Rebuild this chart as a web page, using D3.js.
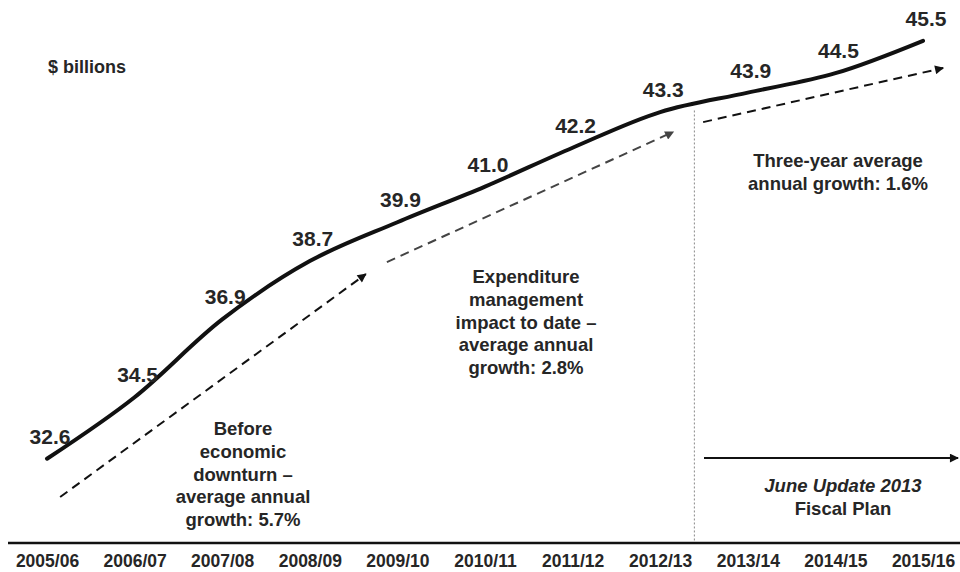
<!DOCTYPE html>
<html>
<head>
<meta charset="utf-8">
<script src="https://cdn.jsdelivr.net/npm/d3@7"></script>
<style>
  html, body { margin: 0; padding: 0; background: #fff; }
  svg { display: block; font-family: "Liberation Sans", Arial, sans-serif; }
</style>
</head>
<body>
<svg id="chart" width="960" height="572"></svg>
<script>
// Fiscal years and expenditure ($ billions)
const years = ["2005/06", "2006/07", "2007/08", "2008/09", "2009/10", "2010/11",
               "2011/12", "2012/13", "2013/14", "2014/15", "2015/16"];
const expenditure = [32.6, 34.5, 36.9, 38.7, 39.9, 41.0, 42.2, 43.3, 43.9, 44.5, 45.5];

// Trend arrows, expressed as (year index, $ billions)
const trendArrows = [
  { from: [0.15, 31.42], to: [3.64, 38.30], color: "#111", dashed: true },
  { from: [3.88, 38.67], to: [7.15, 42.69], color: "#444", dashed: true },
  { from: [7.49, 42.99], to: [10.23, 44.66], color: "#111", dashed: true },
  { from: [7.50, 32.62], to: [10.40, 32.62], color: "#111", dashed: false }
];
const planStart = 7.39; // divider between actuals and the fiscal plan

const svg = d3.select("#chart");
const W = 960, H = 572;
const axisY = 543;

const x = d3.scalePoint().domain(years).range([47, 923]);
const xi = d3.scaleLinear().domain([0, years.length - 1]).range([47, 923]);
const y = d3.scaleLinear().domain([30, 46]).range([axisY, axisY - 16 * 32.4]);

const textColor = "#262626";

// arrowhead markers
const defs = svg.append("defs");
["#111", "#444"].forEach((c, i) => {
  defs.append("marker")
    .attr("id", "head" + i)
    .attr("viewBox", "0 0 10 10")
    .attr("refX", 9).attr("refY", 5)
    .attr("markerWidth", 10).attr("markerHeight", 9)
    .attr("markerUnits", "userSpaceOnUse")
    .attr("orient", "auto")
    .append("path")
    .attr("d", "M0,0 L10,5 L0,10 Z")
    .attr("fill", c);
});

// divider
svg.append("line")
  .attr("x1", xi(planStart)).attr("x2", xi(planStart))
  .attr("y1", y(43.35)).attr("y2", axisY)
  .attr("stroke", "#888").attr("stroke-width", 1)
  .attr("stroke-dasharray", "2,2");

// baseline
svg.append("line")
  .attr("x1", 8).attr("x2", W)
  .attr("y1", axisY).attr("y2", axisY)
  .attr("stroke", "#111").attr("stroke-width", 2.5);

// x axis labels
const xAxis = d3.axisBottom(x).tickSize(0).tickPadding(0);
const gx = svg.append("g").attr("transform", `translate(0,${axisY})`).call(xAxis);
gx.select(".domain").remove();
gx.selectAll("text")
  .attr("y", 24).attr("dy", 0)
  .attr("fill", textColor)
  .style("font-size", "17.5px")
  .style("font-weight", "bold")
  .style("font-family", "'Liberation Sans', Arial, sans-serif");

// trend arrows
svg.selectAll(".trend").data(trendArrows).enter().append("line")
  .attr("class", "trend")
  .attr("x1", d => xi(d.from[0])).attr("y1", d => y(d.from[1]))
  .attr("x2", d => xi(d.to[0])).attr("y2", d => y(d.to[1]))
  .attr("stroke", d => d.color)
  .attr("stroke-width", 2)
  .attr("stroke-dasharray", d => d.dashed ? "9,6" : null)
  .attr("marker-end", (d, i) => i === 1 ? null : (d.color === "#444" ? "url(#head1)" : "url(#head0)"));

// the second trend arrow gets its head separately so the dash pattern ends cleanly
{
  const d = trendArrows[1];
  svg.append("line")
    .attr("x1", xi(d.to[0]) - 1).attr("y1", y(d.to[1]) + 0.5)
    .attr("x2", xi(d.to[0])).attr("y2", y(d.to[1]))
    .attr("stroke", "none")
    .attr("marker-end", "url(#head1)");
}

// expenditure line
const line = d3.line()
  .x((d, i) => x(years[i]))
  .y(d => y(d))
  .curve(d3.curveCatmullRom.alpha(0.5));

svg.append("path")
  .datum(expenditure)
  .attr("d", line)
  .attr("fill", "none")
  .attr("stroke", "#111")
  .attr("stroke-width", 4)
  .attr("stroke-linecap", "round");

// value labels
svg.selectAll(".val").data(expenditure).enter().append("text")
  .attr("class", "val")
  .attr("x", (d, i) => x(years[i]) + 3)
  .attr("y", d => y(d) - 15)
  .attr("text-anchor", "middle")
  .attr("fill", textColor)
  .style("font-size", "21px")
  .style("font-weight", "bold")
  .text(d => d.toFixed(1));

// unit label
svg.append("text")
  .attr("x", 48).attr("y", 73)
  .attr("fill", textColor)
  .style("font-size", "18px").style("font-weight", "bold")
  .text("$ billions");

// annotation blocks
function block(cx, y0, lines, lh) {
  const t = svg.append("text")
    .attr("text-anchor", "middle")
    .attr("fill", textColor)
    .style("font-size", "18.5px").style("font-weight", "bold");
  lines.forEach((l, i) => {
    const ts = t.append("tspan").attr("x", cx).attr("y", y0 + i * lh);
    if (typeof l === "string") ts.text(l);
    else ts.style("font-style", l.italic ? "italic" : null).text(l.text);
  });
}

block(243, 435, ["Before", "economic", "downturn \u2013", "average annual", "growth: 5.7%"], 22.8);
block(526, 283, ["Expenditure", "management", "impact to date \u2013", "average annual", "growth: 2.8%"], 22.8);
block(838, 167, ["Three-year average", "annual growth: 1.6%"], 23);
block(843, 492, [{ text: "June Update 2013", italic: true }, "Fiscal Plan"], 23);
</script>
</body>
</html>
